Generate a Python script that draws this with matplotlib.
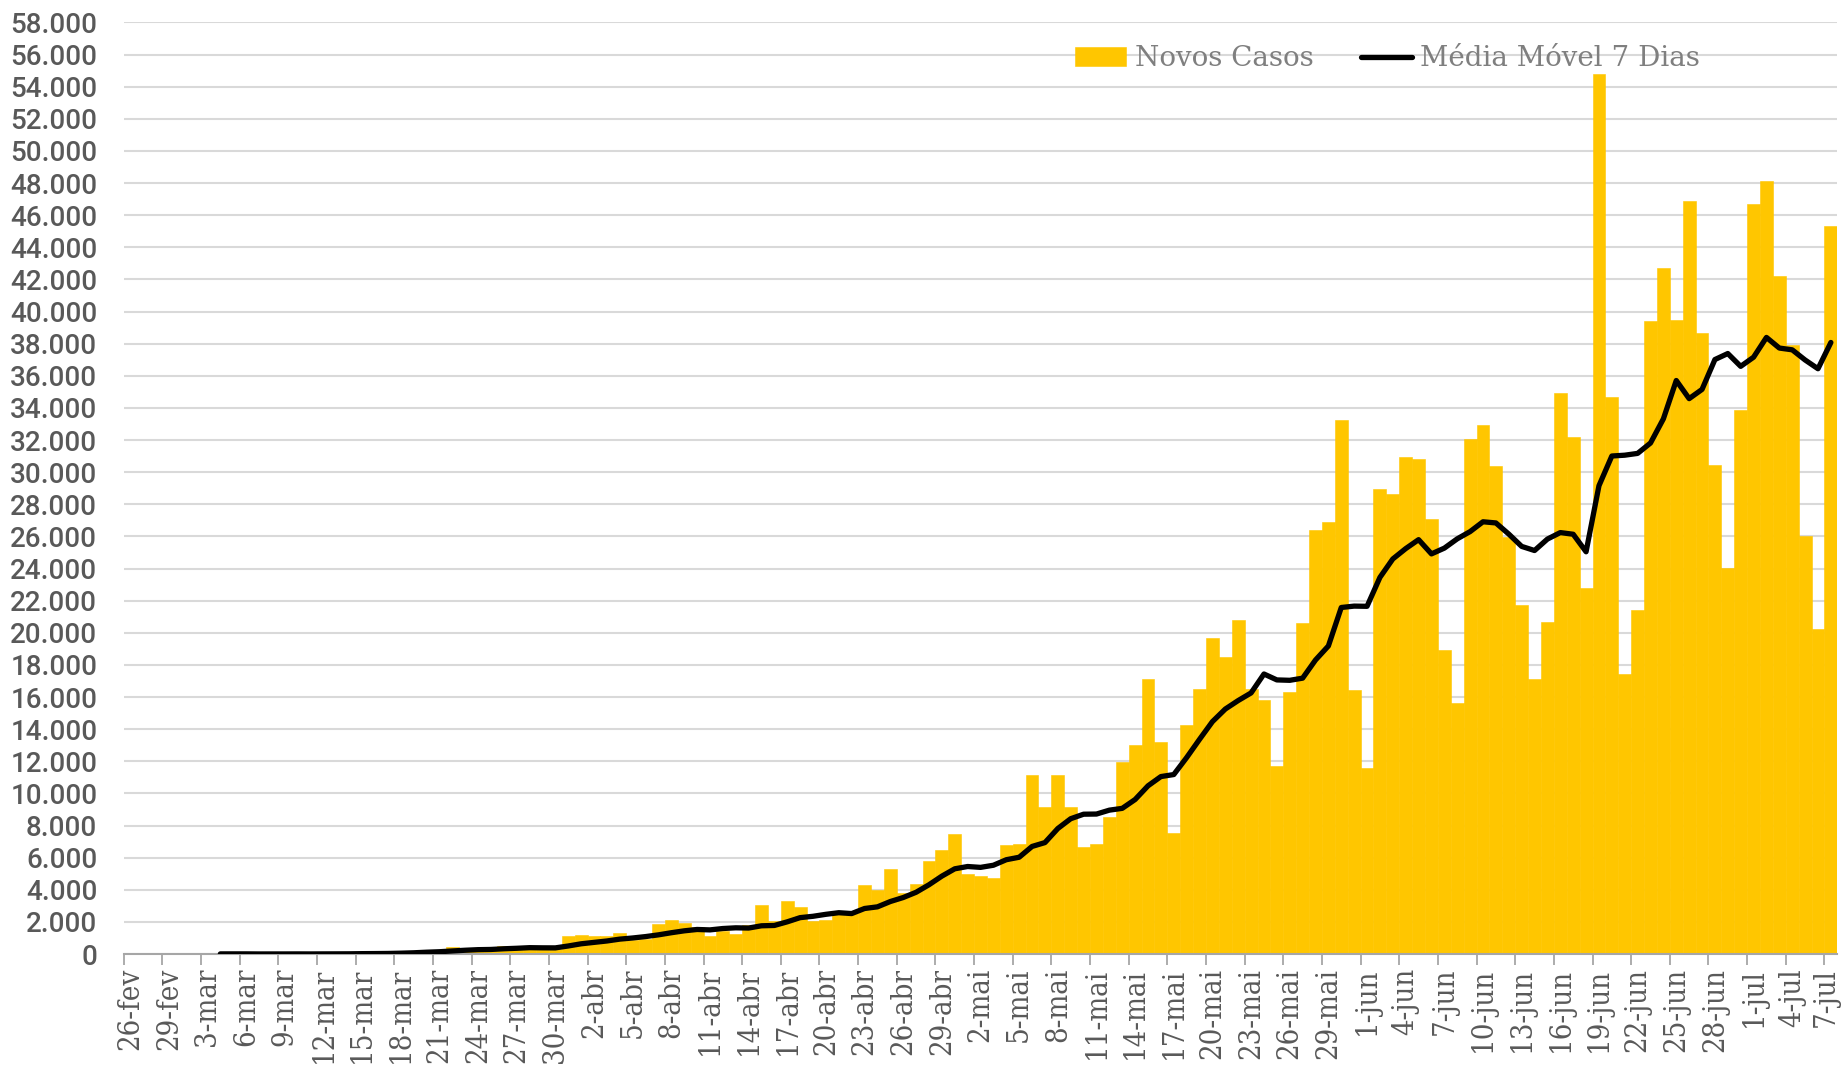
import numpy as np
import matplotlib
matplotlib.use("Agg")
import matplotlib.pyplot as plt
import matplotlib.transforms as mtransforms
from matplotlib.ticker import FuncFormatter, FixedLocator

# daily new cases, 26-fev .. 7-jul
fev = [1, 0, 0, 60]
mar = [0, 0, 0, 40, 4, 5, 6, 6, 0, 9, 18, 25, 21, 23, 79, 34, 57, 137, 193, 283,
       224, 418, 345, 310, 232, 482, 502, 487, 352, 323, 1138]
abr = [1180, 1100, 1110, 1300, 852, 926, 1900, 2100, 1930, 1700, 1120, 1450, 1230,
       1800, 3080, 2080, 3280, 2950, 2040, 2090, 2500, 2700, 4290, 4000, 5270, 3780,
       4380, 5780, 6460, 7480]
mai = [5000, 4890, 4710, 6790, 6860, 11160, 9160, 11140, 9160, 6680, 6860, 8550,
       11950, 13020, 17100, 13190, 7565, 14260, 16500, 19660, 18508, 20803, 16508,
       15813, 11687, 16324, 20599, 26417, 26928, 33274, 16409]
jun = [11598, 28936, 28633, 30925, 30830, 27075, 18912, 15654, 32091, 32913, 30412,
       25982, 21704, 17110, 20647, 34918, 32188, 22765, 54771, 34666, 17459, 21432,
       39436, 42725, 39483, 46860, 38693, 30476, 24052, 33846]
jul = [46712, 48105, 42223, 37923, 26051, 20229, 45305]

novos_casos = fev + mar + abr + mai + jun + jul

# 7-day moving average, 4-mar .. 7-jul
media_movel = [
    10, 11, 11, 6, 7, 7, 9, 7, 10, 12, 15, 25, 30, 37, 54, 78, 115, 144, 192, 237,
    273, 286, 328, 359, 397, 387, 384, 502,
    638, 726, 813, 929, 1000, 1087, 1195, 1327, 1445, 1530, 1504, 1589, 1633, 1619,
    1759, 1780, 2006, 2267, 2351, 2474, 2574, 2520, 2836, 2939, 3270, 3519, 3846,
    4314, 4851, 5307,
    5450, 5396, 5529, 5873, 6027, 6699, 6939, 7816, 8426, 8707, 8717, 8959, 9071,
    9623, 10474, 11050, 11176, 12234, 13369, 14471, 15255, 15784, 16258, 17436,
    17068, 17043, 17177, 18307, 19182, 21577, 21663,
    21650, 23452, 24599, 25243, 25801, 24915, 25273, 25852, 26303, 26914, 26841,
    26148, 25381, 25124, 25837, 26241, 26137, 25045, 29158, 31009, 31059, 31171,
    31817, 33322, 35710, 34580, 35155, 37015, 37389, 36591,
    37160, 38392, 37730, 37620, 36987, 36441, 38078]
ma_inicio = 7  # first day with average (4-mar)

rotulos = ["26-fev", "29-fev", "3-mar", "6-mar", "9-mar", "12-mar", "15-mar",
           "18-mar", "21-mar", "24-mar", "27-mar", "30-mar", "2-abr", "5-abr",
           "8-abr", "11-abr", "14-abr", "17-abr", "20-abr", "23-abr", "26-abr",
           "29-abr", "2-mai", "5-mai", "8-mai", "11-mai", "14-mai", "17-mai",
           "20-mai", "23-mai", "26-mai", "29-mai", "1-jun", "4-jun", "7-jun",
           "10-jun", "13-jun", "16-jun", "19-jun", "22-jun", "25-jun", "28-jun",
           "1-jul", "4-jul", "7-jul"]

amarelo = "#FFC600"
cinza = "#595959"
serif = "DejaVu Serif"

fig = plt.figure(figsize=(18.41, 10.71), dpi=100)
ax = fig.add_axes([0.0672, 0.1092, 0.9308, 0.8698])

x = np.arange(len(novos_casos))
barras = ax.bar(x, novos_casos, width=1.0, align="edge", color=amarelo,
                edgecolor=amarelo, linewidth=0.4, label="Novos Casos", zorder=2)

x_ma = np.arange(ma_inicio, ma_inicio + len(media_movel)) + 0.5
linha, = ax.plot(x_ma, media_movel, color="black", lw=3.8, solid_joinstyle="round",
                 solid_capstyle="round", label="Média Móvel 7 Dias", zorder=3)

ax.set_xlim(0, len(novos_casos))
ax.set_ylim(0, 58000)
ax.set_yticks(np.arange(0, 58001, 2000))
ax.yaxis.set_major_formatter(FuncFormatter(lambda v, p: f"{int(v):,}".replace(",", ".")))
ax.grid(axis="y", color="#d9d9d9", lw=1.5, zorder=0)
ax.set_axisbelow(True)

# tick marks at day boundaries, labels centred on the bars
pos = np.arange(0, len(novos_casos), 3)
ax.xaxis.set_minor_locator(FixedLocator(pos))
ax.set_xticks(pos + 0.5)
ax.set_xticklabels(rotulos, rotation=90)
ax.tick_params(axis="x", which="major", length=0, pad=10, labelcolor=cinza)
ax.tick_params(axis="x", which="minor", length=8, width=1.3, color="#a6a6a6")
ax.tick_params(axis="y", length=0, pad=19, labelcolor=cinza)
for t in ax.get_xticklabels():
    t.set_fontfamily(serif)
    t.set_fontstretch("condensed")
    t.set_fontsize(21)
for t in ax.get_yticklabels():
    t.set_fontfamily("Roboto")
    t.set_fontweight("medium")
    t.set_fontsize(20)

# keep the last label inside the picture
ultimo = ax.get_xticklabels()[-1]
ultimo.set_transform(ultimo.get_transform() +
                     mtransforms.ScaledTranslation(-5 / 100, 0, fig.dpi_scale_trans))

for s in ["top", "right", "left"]:
    ax.spines[s].set_visible(False)
ax.spines["bottom"].set_color("#a6a6a6")
ax.spines["bottom"].set_linewidth(1.5)

leg = ax.legend(handles=[barras, linha], loc="center left",
                bbox_to_anchor=(0.547, 0.961), ncol=2, frameon=False, borderpad=0,
                handlelength=1.85, handleheight=0.7, handletextpad=0.3,
                columnspacing=1.7, prop={"family": serif, "size": 20})
for t in leg.get_texts():
    t.set_color("#7f7f7f")

fig.savefig("out.png", dpi=100)
